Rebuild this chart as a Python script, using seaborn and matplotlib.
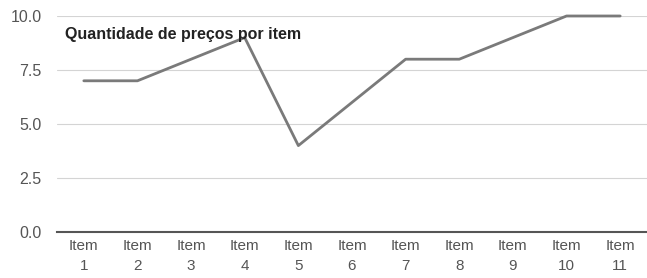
import numpy as np
import pandas as pd
import matplotlib
matplotlib.use("Agg")
import matplotlib.pyplot as plt
import seaborn as sns

# Data
items = ["Item\n1", "Item\n2", "Item\n3", "Item\n4", "Item\n5", "Item\n6",
         "Item\n7", "Item\n8", "Item\n9", "Item\n10", "Item\n11"]
precos = [7, 7, 8, 9, 4, 6, 8, 8, 9, 10, 10]
yticks = [0.0, 2.5, 5.0, 7.5, 10.0]

df = pd.DataFrame({"item": items, "precos": precos})

sns.set_style("white")
plt.rcParams['font.family'] = ['Liberation Sans', 'DejaVu Sans']

fig = plt.figure(figsize=(6.47, 2.78), dpi=100)
ax = fig.add_axes([57/647, 1 - 232/278, 590/647, 216/278])

sns.lineplot(data=df, x="item", y="precos", sort=False, ax=ax,
             color="#7a7a7a", linewidth=2.0, clip_on=False)

ax.set_xlim(-0.5, len(items) - 0.5)
ax.set_ylim(0, 10)
ax.set_yticks(yticks)
ax.set_yticklabels(["{:.1f}".format(v) for v in yticks])
ax.grid(axis="y", color="#d4d4d4", linewidth=0.8)
ax.set_axisbelow(True)

for s in ["top", "right", "left"]:
    ax.spines[s].set_visible(False)
ax.spines["bottom"].set_color("#555555")
ax.spines["bottom"].set_linewidth(1.5)

ax.tick_params(axis="y", length=0, labelsize=11.5, labelcolor="#555555", pad=11)
ax.tick_params(axis="x", length=0, labelsize=11, labelcolor="#555555", pad=5)
for lab in ax.get_xticklabels():
    lab.set_linespacing(1.55)
ax.set_xlabel("")
ax.set_ylabel("")

ax.text(0.013, 0.915, "Quantidade de preços por item", transform=ax.transAxes,
        fontsize=11.5, fontweight="bold", color="#222222", ha="left", va="center")

plt.savefig("out.png", dpi=100)
